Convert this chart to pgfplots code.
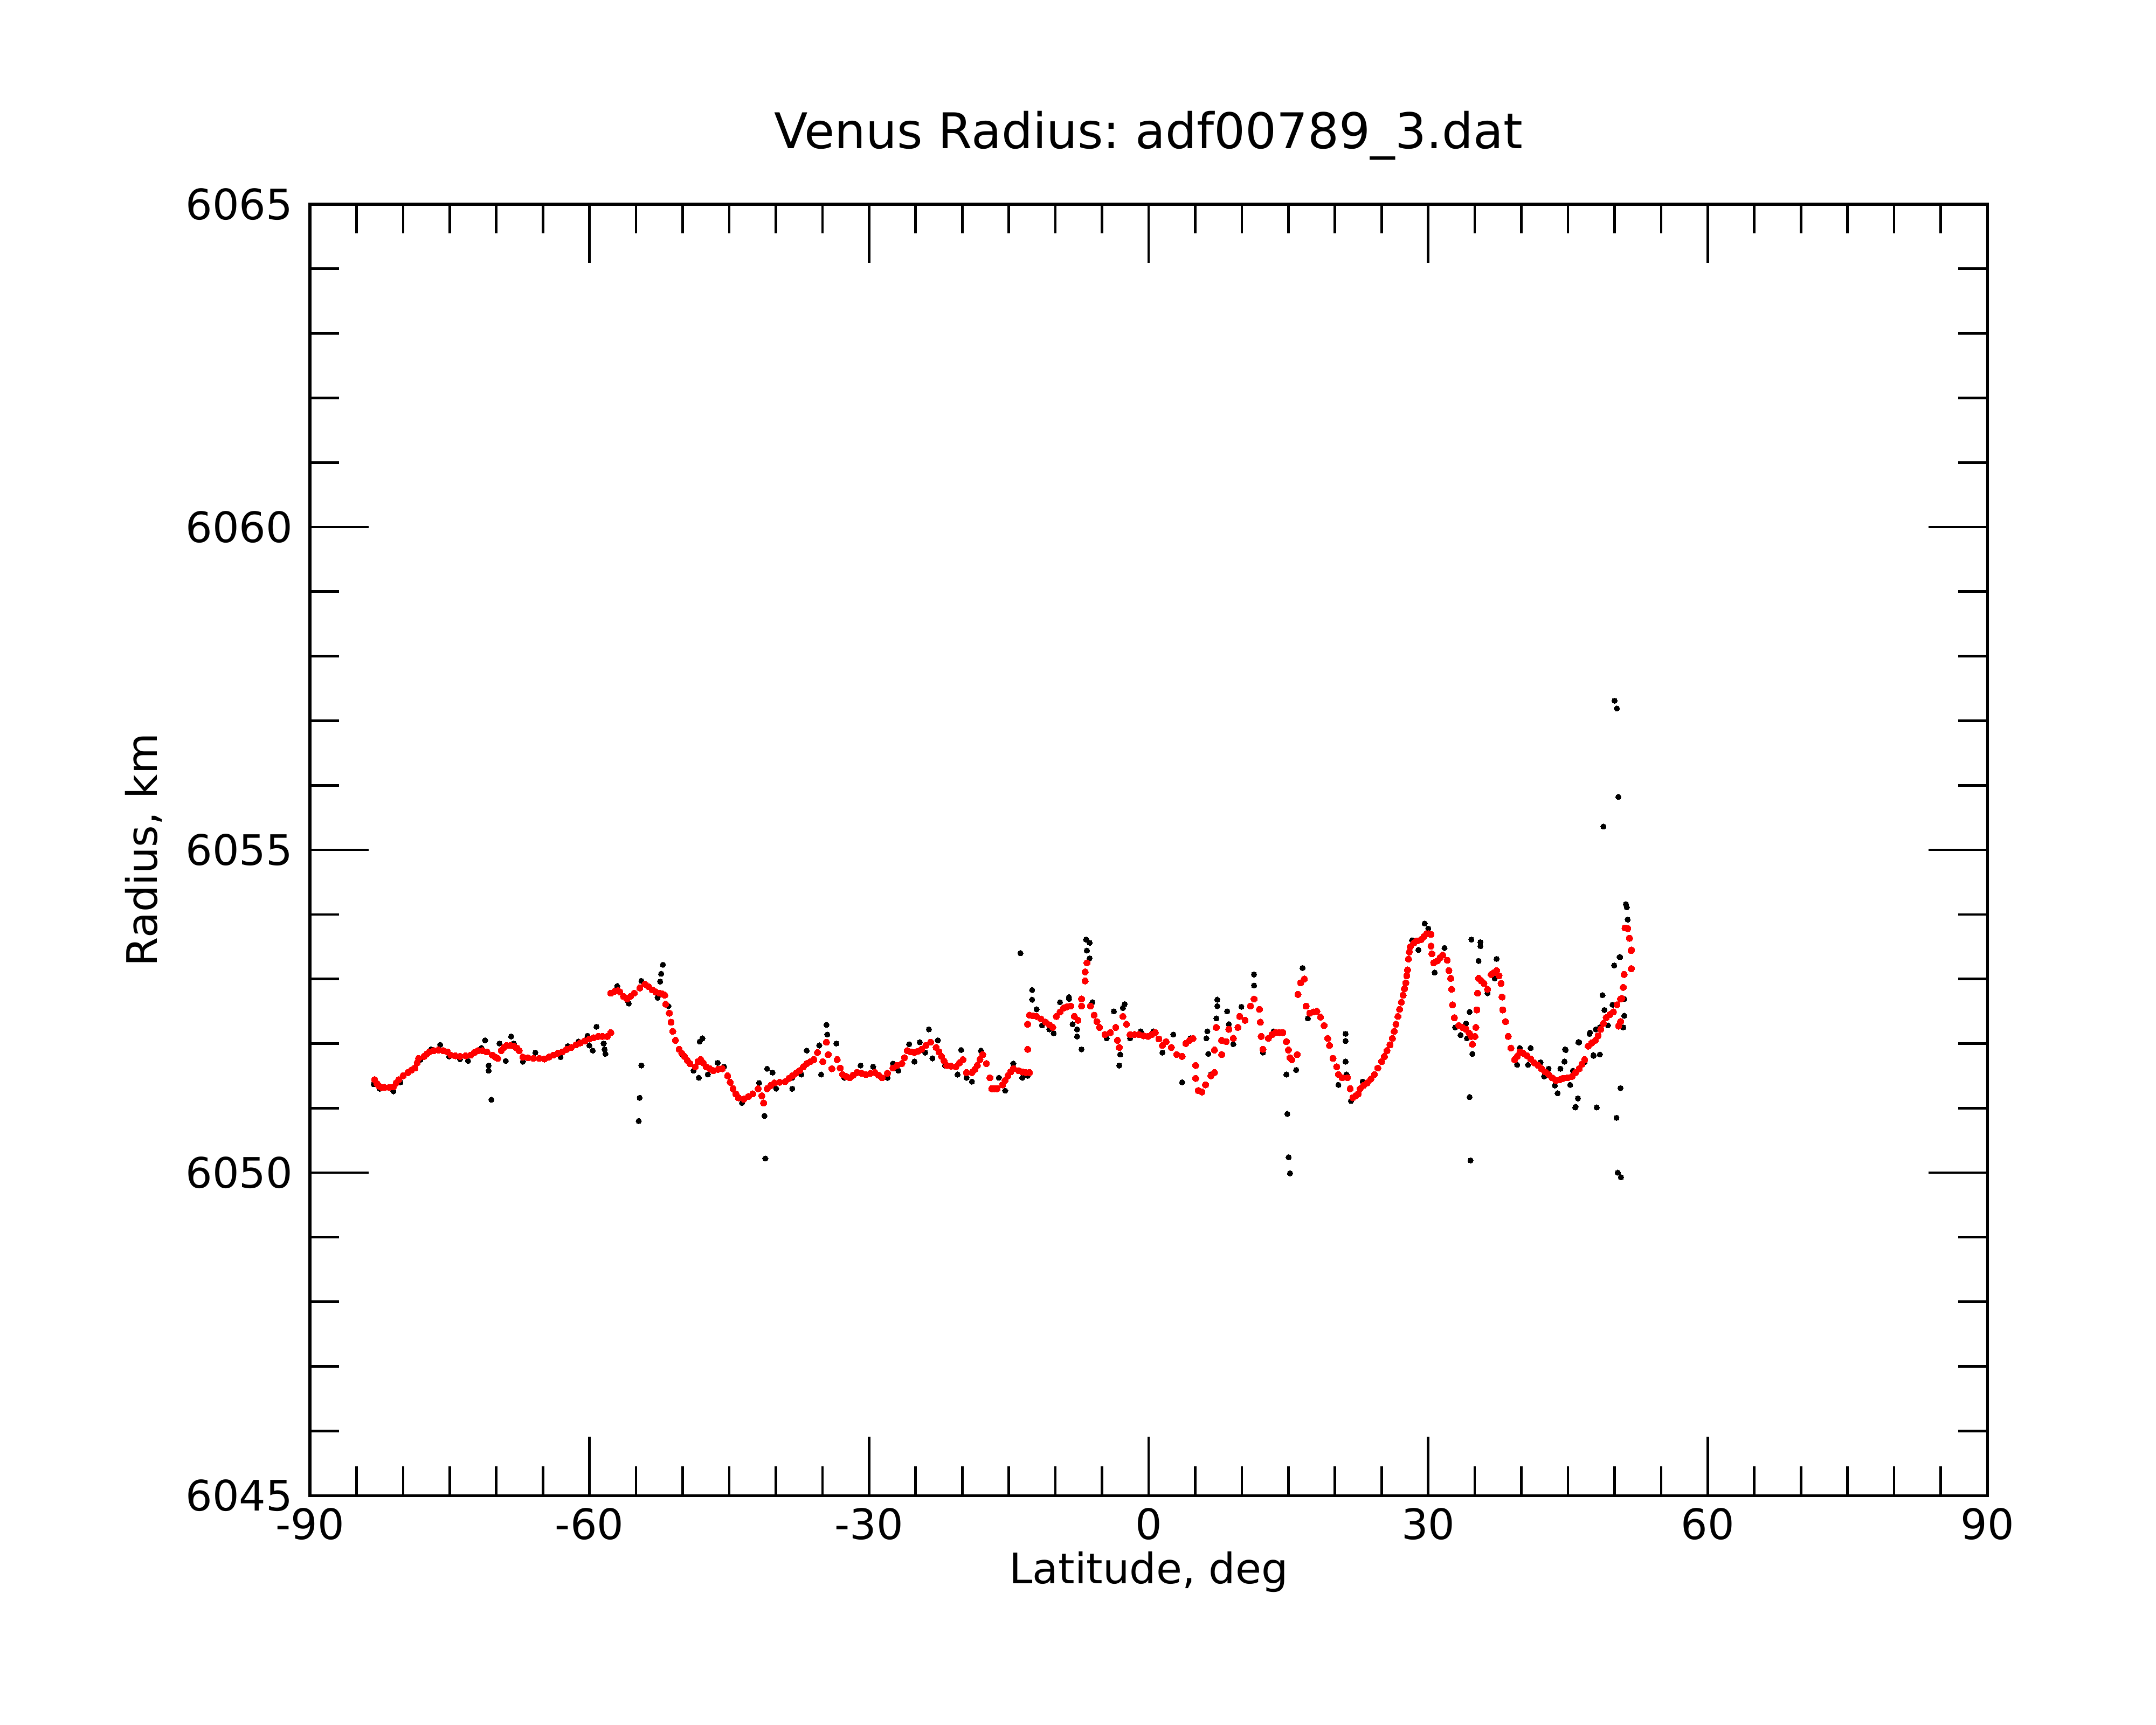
\documentclass[border=0pt]{standalone}
\usepackage{fontspec}
\setmainfont{DejaVu Sans}
\usepackage{pgfplots}
\pgfplotsset{compat=1.18}
\frenchspacing
\begin{document}
\begin{tikzpicture}
\useasboundingbox (-73.72pt,-54.49pt) rectangle (439.10pt,355.77pt);
\begin{axis}[
  at={(0,0)}, anchor=south west,
  scale only axis, width=398.97pt, height=307.18pt,
  xmin=-90, xmax=90, ymin=6045, ymax=6065,
  xtick={-90,-60,-30,0,30,60,90},
  xticklabels={-90,-60,-30,0,30,60,90},
  ytick={6045,6050,6055,6060,6065},
  yticklabels={6045,6050,6055,6060,6065},
  minor x tick num=5, minor y tick num=4,
  tick align=inside,
  major tick length=14pt, minor tick length=6.9pt,
  every tick/.style={black, line width=0.6pt},
  axis line style={line width=0.65pt},
  xticklabel style={anchor=base, yshift=-10.5pt, inner sep=0pt, font=\fontsize{10}{12}\selectfont},
  yticklabel style={anchor=east, xshift=-3.9pt, inner sep=0pt, font=\fontsize{10}{12}\selectfont},
  title={Venus Radius: adf00789\_3.dat},
  title style={at={(axis description cs:0.5,1.0236)}, anchor=base, inner sep=0pt, font=\fontsize{11.7}{14}\selectfont},
  xlabel={Latitude, deg},
  xlabel style={at={(axis description cs:0.5,-0.0684)}, anchor=base, inner sep=0pt, font=\fontsize{10}{12}\selectfont},
  ylabel={Radius, km},
  ylabel style={at={(axis description cs:-0.091,0.5)}, anchor=base, inner sep=0pt, font=\fontsize{10}{12}\selectfont},
]
% raw data (black)
\addplot[only marks, mark=*, mark size=0.65pt, mark options={draw=black, fill=black, line width=0pt}] coordinates {
(-83.16,6051.37) (-82.5,6051.30) (-81.04,6051.26) (-80.3,6051.40) (-78.14,6051.75) (-76.99,6051.91) (-76.02,6051.98)
(-75.06,6051.80) (-73.90,6051.76) (-73.04,6051.73) (-71.59,6051.93) (-71.20,6052.05) (-70.82,6051.66)
(-70.82,6051.58) (-70.53,6051.13) (-69.66,6052.00) (-68.99,6051.73) (-68.41,6052.11) (-68.12,6052.00)
(-67.15,6051.72) (-65.81,6051.86) (-64.26,6051.80) (-63.10,6051.79) (-62.33,6051.96) (-61.18,6052.03)
(-60.21,6052.12) (-60.02,6051.97) (-59.64,6051.89) (-59.25,6052.26) (-58.48,6052.00) (-58.38,6051.91)
(-58.29,6051.84) (-57.03,6052.89) (-55.97,6052.67) (-55.78,6052.62) (-54.72,6050.80) (-54.62,6051.16)
(-54.43,6051.66) (-54.43,6052.97) (-52.69,6052.71) (-52.41,6052.96) (-52.31,6053.08) (-52.12,6053.22)
(-51.54,6052.58) (-49.99,6051.83) (-48.84,6051.58) (-48.26,6051.47) (-48.17,6052.03) (-47.88,6052.08)
(-47.30,6051.52) (-46.24,6051.70) (-45.56,6051.64) (-43.63,6051.08) (-41.80,6051.39) (-41.22,6050.88)
(-41.13,6050.22) (-40.94,6051.61) (-40.36,6051.55) (-39.97,6051.30) (-38.24,6051.30) (-38.24,6051.47)
(-37.27,6051.52) (-36.69,6051.89) (-35.34,6051.97) (-35.15,6051.52) (-34.57,6052.29) (-34.48,6052.14)
(-33.51,6052.00) (-32.65,6051.47) (-30.91,6051.66) (-29.56,6051.64) (-28.02,6051.47) (-27.44,6051.69)
(-26.86,6051.58) (-25.70,6051.99) (-25.13,6051.72) (-24.55,6052.02) (-23.97,6051.86) (-23.58,6052.22)
(-23.20,6051.77) (-22.62,6052.05) (-21.85,6051.66) (-20.50,6051.52) (-20.11,6051.90) (-19.54,6051.47)
(-18.96,6051.41) (-17.99,6051.89) (-16.07,6051.47) (-15.39,6051.27) (-14.52,6051.69) (-13.75,6053.40)
(-13.56,6051.47) (-12.98,6051.50) (-12.50,6052.83) (-12.50,6052.68) (-12.02,6052.53) (-11.44,6052.28)
(-10.66,6052.22) (-10.19,6052.16) (-9.51,6052.64) (-8.55,6052.72) (-8.55,6052.69) (-8.16,6052.30)
(-7.68,6052.11) (-7.68,6052.22) (-7.20,6051.91) (-6.71,6053.61) (-6.62,6053.44) (-6.33,6053.56)
(-6.33,6053.32) (-6.04,6052.64) (-4.50,6052.08) (-3.73,6052.50) (-3.15,6051.66) (-3.05,6051.83)
(-2.76,6052.55) (-2.57,6052.61) (-1.99,6052.08) (-0.84,6052.19) (0.51,6052.19) (1.48,6051.86)
(2.64,6052.14) (3.60,6051.40) (4.47,6052.08) (6.20,6052.08) (6.30,6052.19) (6.40,6051.84)
(6.68,6051.52) (7.26,6052.39) (7.36,6052.58) (7.36,6052.68) (8.42,6052.50) (8.61,6052.30)
(9.09,6051.99) (9.96,6052.57) (11.31,6052.90) (11.31,6053.07) (12.27,6051.86) (13.43,6052.19)
(14.78,6051.52) (14.88,6050.91) (15.02,6050.24) (15.17,6049.99) (15.84,6051.59) (16.52,6053.17)
(17.09,6052.39) (20.37,6051.36) (21.14,6052.15) (21.14,6052.04) (21.14,6051.72) (21.24,6051.52)
(21.72,6051.11) (22.97,6051.41) (28.28,6053.60) (28.95,6053.45) (29.63,6053.86) (30.01,6053.78)
(30.69,6053.10) (31.75,6053.48) (32.90,6052.25) (33.48,6052.13) (34.06,6052.31) (34.16,6052.08)
(34.45,6052.49) (34.45,6051.17) (34.54,6050.19) (34.64,6053.61) (34.74,6051.84) (35.41,6053.28)
(35.60,6053.57) (35.60,6053.51) (36.37,6052.78) (37.14,6053.01) (37.34,6053.31) (39.55,6051.67)
(39.84,6051.93) (40.71,6051.67) (41.00,6051.93) (42.06,6051.71) (42.45,6051.49) (42.93,6051.61)
(43.60,6051.35) (43.89,6051.23) (44.18,6051.61) (44.20,6051.61) (44.62,6051.72) (44.70,6051.91)
(44.76,6051.90) (45.24,6051.36) (45.53,6051.58) (45.78,6051.01) (45.82,6051.02) (46.07,6051.15)
(46.11,6052.02) (46.20,6052.02) (46.78,6051.71) (47.32,6052.15) (47.36,6052.17) (47.74,6051.82)
(47.75,6051.81) (47.99,6052.22) (48.09,6051.01) (48.42,6051.83) (48.42,6052.25) (48.71,6052.75)
(48.80,6055.36) (48.91,6052.52) (49.29,6052.28) (49.78,6052.60) (49.96,6053.21) (50.00,6057.31)
(50.21,6050.85) (50.25,6057.19) (50.35,6050.00) (50.40,6055.82) (50.54,6053.34) (50.60,6053.34)
(50.64,6051.31) (50.69,6049.93) (50.93,6052.25) (51.03,6052.43) (51.03,6052.69) (51.22,6054.16)
(51.31,6054.11) (51.41,6053.92)
};
% smoothed data (red)
\addplot[only marks, mark=*, mark size=0.76pt, mark options={draw=red, fill=red, line width=0pt}] coordinates {
(-83.06,6051.44) (-82.80,6051.38) (-82.58,6051.34) (-82.30,6051.32) (-82.00,6051.32) (-81.50,6051.32)
(-81.04,6051.33) (-80.75,6051.39) (-80.46,6051.44) (-80.00,6051.50) (-79.49,6051.55) (-79.10,6051.59)
(-78.72,6051.62) (-78.50,6051.70) (-78.34,6051.77) (-77.76,6051.80) (-77.45,6051.84) (-77.18,6051.87)
(-76.70,6051.89) (-76.22,6051.90) (-75.70,6051.89) (-75.25,6051.87) (-74.87,6051.82) (-74.40,6051.81)
(-73.90,6051.80) (-73.30,6051.81) (-72.75,6051.82) (-72.35,6051.86) (-71.97,6051.89) (-71.50,6051.89)
(-71.01,6051.87) (-70.43,6051.82) (-70.10,6051.79) (-69.85,6051.77) (-69.47,6051.89) (-69.20,6051.94)
(-68.89,6051.97) (-68.50,6051.97) (-68.12,6051.96) (-67.80,6051.93) (-67.54,6051.89) (-67.15,6051.79)
(-66.60,6051.78) (-66.00,6051.77) (-65.40,6051.77) (-64.84,6051.76) (-64.35,6051.79) (-63.88,6051.82)
(-63.40,6051.85) (-62.91,6051.87) (-62.45,6051.91) (-61.95,6051.94) (-61.45,6051.98) (-60.98,6052.01)
(-60.50,6052.04) (-60.02,6052.07) (-59.55,6052.09) (-59.06,6052.11) (-58.60,6052.11) (-58.09,6052.11)
(-57.71,6052.17)
(-57.71,6052.78) (-57.30,6052.81) (-56.94,6052.82) (-56.74,6052.80) (-56.35,6052.73) (-55.97,6052.69)
(-55.60,6052.73) (-55.20,6052.78) (-54.60,6052.86) (-54.05,6052.92) (-53.65,6052.88) (-53.27,6052.83)
(-52.90,6052.80) (-52.50,6052.78) (-52.20,6052.77) (-51.92,6052.75) (-51.83,6052.61) (-51.44,6052.47)
(-51.25,6052.33) (-51.06,6052.19) (-50.77,6052.05) (-50.38,6051.91) (-50.10,6051.85) (-49.80,6051.80)
(-49.50,6051.74) (-49.23,6051.69) (-48.65,6051.64) (-48.35,6051.72) (-48.07,6051.75) (-47.80,6051.70)
(-47.49,6051.64) (-47.10,6051.61) (-46.72,6051.58) (-46.20,6051.60) (-45.75,6051.61) (-45.18,6051.50)
(-44.90,6051.40) (-44.60,6051.30) (-44.30,6051.22) (-44.02,6051.16) (-43.44,6051.14) (-42.95,6051.18)
(-42.48,6051.22) (-41.90,6051.30) (-41.51,6051.19) (-41.32,6051.08) (-40.94,6051.30) (-40.55,6051.35)
(-40.16,6051.39) (-39.60,6051.40) (-39.01,6051.41) (-38.60,6051.46) (-38.24,6051.50) (-37.85,6051.54)
(-37.46,6051.58) (-37.05,6051.64) (-36.69,6051.69) (-36.30,6051.72) (-35.92,6051.75) (-35.54,6051.86)
(-34.96,6051.72) (-34.57,6052.02) (-34.38,6051.83) (-33.99,6051.61) (-33.42,6051.75) (-33.10,6051.62)
(-32.84,6051.52) (-32.45,6051.49) (-32.07,6051.47) (-31.70,6051.51) (-31.29,6051.55) (-30.80,6051.54)
(-30.33,6051.52) (-29.85,6051.54) (-29.37,6051.55) (-29.00,6051.51) (-28.60,6051.47) (-28.02,6051.54)
(-27.44,6051.62) (-27.00,6051.66) (-26.48,6051.69) (-26.20,6051.78) (-25.90,6051.89) (-25.50,6051.87)
(-25.13,6051.86) (-24.75,6051.88) (-24.36,6051.91) (-23.90,6051.97) (-23.39,6052.02) (-22.81,6051.94)
(-22.50,6051.87) (-22.23,6051.80) (-21.95,6051.73) (-21.66,6051.66) (-21.20,6051.65) (-20.69,6051.64)
(-20.30,6051.70) (-19.92,6051.75) (-19.54,6051.55) (-18.96,6051.55) (-18.65,6051.60) (-18.38,6051.66)
(-18.10,6051.75) (-17.80,6051.83) (-17.41,6051.69) (-17.03,6051.47) (-16.84,6051.30) (-16.55,6051.30)
(-16.26,6051.30) (-15.68,6051.36) (-15.40,6051.43) (-15.10,6051.50) (-14.80,6051.56) (-14.52,6051.61)
(-13.94,6051.58) (-13.55,6051.56) (-13.17,6051.55) (-12.79,6051.55) (-12.98,6051.91)
(-12.98,6052.30) (-12.79,6052.44) (-12.40,6052.43) (-12.02,6052.42) (-11.55,6052.38) (-11.05,6052.33)
(-10.65,6052.29) (-10.28,6052.25) (-9.90,6052.42) (-9.50,6052.49) (-9.12,6052.55) (-8.75,6052.57)
(-8.35,6052.58) (-7.97,6052.42) (-7.58,6052.36) (-7.20,6052.58) (-7.20,6052.69) (-6.81,6052.97)
(-6.81,6053.11) (-6.62,6053.25) (-6.23,6052.58) (-5.85,6052.44) (-5.55,6052.34) (-5.27,6052.25)
(-4.69,6052.14) (-4.11,6052.17) (-3.53,6052.25) (-3.34,6052.05) (-3.15,6051.94) (-2.76,6052.42)
(-2.38,6052.30) (-1.99,6052.14) (-1.50,6052.14) (-1.03,6052.14) (-0.55,6052.12) (-0.06,6052.11)
(0.35,6052.14) (0.71,6052.17) (1.10,6052.07) (1.48,6051.97) (1.87,6052.03) (2.44,6051.94)
(3.02,6051.83) (3.60,6051.80) (3.99,6052.00) (4.40,6052.05) (4.76,6052.08) (5.05,6051.66)
(5.05,6051.46) (5.33,6051.27) (5.72,6051.25) (6.11,6051.36) (6.68,6051.50) (7.07,6051.55)
(7.07,6051.90) (7.26,6052.25) (7.84,6052.05) (7.84,6051.83) (8.32,6052.03) (8.61,6052.22)
(9.09,6052.08) (9.58,6052.25) (9.77,6052.42) (10.35,6052.36) (10.93,6052.58) (11.31,6052.69)
(11.89,6052.53) (11.99,6052.33) (12.08,6052.11) (12.27,6051.91) (12.85,6052.08) (13.25,6052.14)
(13.62,6052.17) (14.00,6052.17) (14.40,6052.17) (14.78,6052.03) (15.00,6051.90) (15.17,6051.78)
(15.36,6051.75) (15.94,6051.83)
(16.03,6052.76) (16.32,6052.94) (16.71,6053.00) (16.90,6052.58) (17.29,6052.47) (17.70,6052.49)
(18.06,6052.50) (18.44,6052.41) (18.83,6052.28) (19.22,6052.08) (19.41,6051.97) (19.79,6051.77)
(20.18,6051.64) (20.37,6051.52) (20.76,6051.47) (21.34,6051.47) (21.63,6051.30) (21.91,6051.16)
(22.20,6051.19) (22.49,6051.22) (22.69,6051.30) (23.05,6051.35) (23.46,6051.39) (23.85,6051.45)
(24.23,6051.52) (24.60,6051.62) (25.00,6051.72) (25.30,6051.80) (25.58,6051.89) (25.90,6051.98)
(26.16,6052.08) (26.35,6052.19) (26.54,6052.30) (26.75,6052.42) (26.93,6052.53) (27.12,6052.64)
(27.31,6052.75) (27.45,6052.85) (27.60,6052.94) (27.70,6053.05) (27.79,6053.14) (27.89,6053.31)
(27.98,6053.42) (28.08,6053.50) (28.47,6053.56) (28.80,6053.59) (29.24,6053.61) (29.55,6053.66)
(29.82,6053.70) (30.05,6053.70) (30.30,6053.69) (30.30,6053.51) (30.40,6053.39) (30.59,6053.25)
(30.98,6053.28) (31.30,6053.33) (31.55,6053.37) (32.04,6053.29) (32.23,6053.13) (32.42,6053.01)
(32.52,6052.84) (32.61,6052.60) (32.81,6052.40) (33.29,6052.28) (33.70,6052.25) (34.06,6052.22)
(34.40,6052.16) (34.64,6052.11) (34.74,6051.99) (35.02,6052.11) (35.12,6052.25) (35.22,6052.52)
(35.31,6052.78) (35.41,6053.01) (35.70,6052.97) (35.99,6052.93) (36.37,6052.84) (36.76,6053.07)
(37.05,6053.10) (37.34,6053.13) (37.60,6053.05) (37.82,6052.93) (37.92,6052.72) (38.01,6052.52)
(38.30,6052.34) (38.59,6052.11) (38.88,6051.93) (39.27,6051.75) (39.55,6051.80) (39.84,6051.87)
(40.20,6051.85) (40.62,6051.81) (41.00,6051.76) (41.39,6051.70) (41.80,6051.66) (42.16,6051.61)
(42.55,6051.56) (42.93,6051.52) (43.30,6051.47) (43.70,6051.43) (44.10,6051.44) (44.47,6051.46)
(44.95,6051.47) (45.43,6051.49) (45.80,6051.55) (46.21,6051.61) (46.50,6051.68) (46.78,6051.75)
(47.17,6051.96) (47.55,6052.01) (47.94,6052.05) (48.23,6052.12) (48.52,6052.22) (48.80,6052.31)
(49.10,6052.40) (49.50,6052.45) (49.87,6052.49) (50.26,6052.60) (50.44,6052.27) (50.64,6052.34)
(50.64,6052.69) (50.79,6052.70) (50.93,6052.87) (51.03,6053.07) (51.12,6053.79) (51.41,6053.78)
(51.60,6053.63) (51.79,6053.44) (51.80,6053.16) (51.80,6053.45)
};
\end{axis}
\end{tikzpicture}
\end{document}
